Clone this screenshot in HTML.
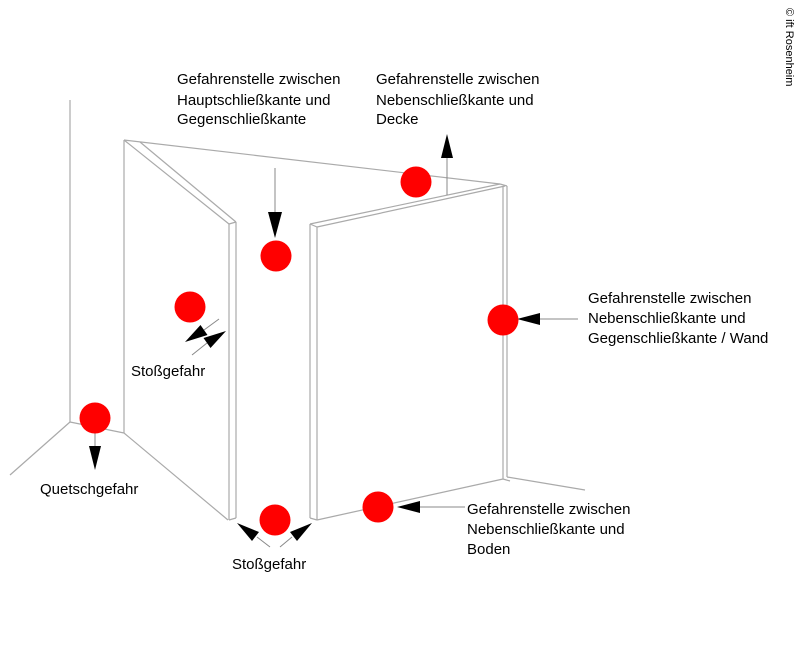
<!DOCTYPE html>
<html><head><meta charset="utf-8"><style>
body{margin:0;background:#fff;width:800px;height:647px;overflow:hidden}
text{font-family:"Liberation Sans",Arial,sans-serif;font-size:15px;fill:#000}
</style></head><body>
<svg width="800" height="647" viewBox="0 0 800 647">
<g stroke="#aaa" stroke-width="1.2" fill="none">
<line x1="70" y1="100" x2="70" y2="422"/>
<line x1="70" y1="422" x2="10" y2="475"/>
<line x1="70" y1="422" x2="124" y2="433"/>
<line x1="124" y1="433" x2="228" y2="520"/>
<line x1="124" y1="140" x2="124" y2="433"/>
<line x1="124" y1="140" x2="229" y2="224"/>
<line x1="140" y1="142" x2="236" y2="222"/>
<line x1="229" y1="224" x2="236" y2="222"/>
<line x1="229" y1="224" x2="229" y2="520"/>
<line x1="236" y1="222" x2="236" y2="518"/>
<line x1="229" y1="520" x2="236" y2="518"/>
<line x1="124" y1="140" x2="500" y2="184"/>
<line x1="310" y1="224" x2="500" y2="184"/>
<line x1="317" y1="227" x2="505" y2="186"/>
<line x1="310" y1="224" x2="317" y2="227"/>
<line x1="310" y1="224" x2="310" y2="518"/>
<line x1="317" y1="227" x2="317" y2="520"/>
<line x1="310" y1="518" x2="317" y2="520"/>
<line x1="317" y1="520" x2="503" y2="479"/>
<line x1="500" y1="184" x2="507" y2="186"/>
<line x1="503" y1="186" x2="503" y2="479"/>
<line x1="507" y1="186" x2="507" y2="477"/>
<line x1="507" y1="477" x2="585" y2="490"/>
<line x1="503" y1="479" x2="510" y2="481"/>
</g>
<g stroke="#888" stroke-width="1" fill="none">
<line x1="275" y1="168" x2="275" y2="212"/>
<line x1="447" y1="195" x2="447" y2="158"/>
<line x1="578" y1="319" x2="540" y2="319"/>
<line x1="95" y1="432" x2="95" y2="448"/>
<line x1="465" y1="507" x2="420" y2="507"/>
<line x1="257" y1="537" x2="270" y2="547"/>
<line x1="292" y1="537" x2="280" y2="547"/>
<line x1="219" y1="319" x2="204" y2="330"/>
<line x1="192" y1="355" x2="207" y2="343"/>
</g>
<g fill="#000">
<polygon points="268,212 282,212 275,238"/>
<polygon points="441,158 453,158 447,134"/>
<polygon points="540,313 540,325 517,319"/>
<polygon points="89,446 101,446 95,470"/>
<polygon points="420,501 420,513 397,507"/>
<polygon points="237,523 259,532 252,541"/>
<polygon points="312,523 290,532 297,541"/>
<polygon points="185,342 200.5,325 207.5,335"/>
<polygon points="226,331 203.5,338 210.5,348"/>
</g>
<g fill="#f00">
<circle cx="416" cy="182" r="15.5"/>
<circle cx="276" cy="256" r="15.5"/>
<circle cx="190" cy="307" r="15.5"/>
<circle cx="503" cy="320" r="15.5"/>
<circle cx="95" cy="418" r="15.5"/>
<circle cx="275" cy="520" r="15.5"/>
<circle cx="378" cy="507" r="15.5"/>
</g>
<text x="177" y="84">Gefahrenstelle zwischen</text>
<text x="177" y="105">Hauptschließkante und</text>
<text x="177" y="124">Gegenschließkante</text>
<text x="376" y="84">Gefahrenstelle zwischen</text>
<text x="376" y="105">Nebenschließkante und</text>
<text x="376" y="124">Decke</text>
<text x="588" y="303">Gefahrenstelle zwischen</text>
<text x="588" y="323">Nebenschließkante und</text>
<text x="588" y="343">Gegenschließkante / Wand</text>
<text x="467" y="514">Gefahrenstelle zwischen</text>
<text x="467" y="534">Nebenschließkante und</text>
<text x="467" y="554">Boden</text>
<text x="131" y="376">Stoßgefahr</text>
<text x="232" y="569">Stoßgefahr</text>
<text x="40" y="494">Quetschgefahr</text>
<text transform="translate(786,8) rotate(90)" style="font-size:11px">© ift Rosenheim</text>
</svg>
</body></html>
